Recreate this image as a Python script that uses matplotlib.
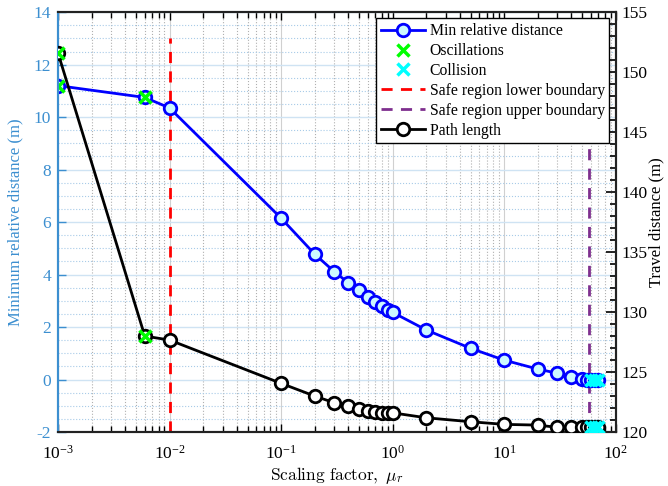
import matplotlib
matplotlib.use('Agg')
import matplotlib.pyplot as plt
from matplotlib.ticker import MultipleLocator, LogLocator, NullFormatter
from matplotlib.lines import Line2D

# scaling factor values
mu = [0.001, 0.006, 0.01, 0.1, 0.2, 0.3, 0.4, 0.5, 0.6, 0.7, 0.8, 0.9, 1,
      2, 5, 10, 20, 30, 40, 50, 55, 60, 65, 70]
# minimum relative distance (m)
min_dist = [11.2, 10.75, 10.35, 6.15, 4.78, 4.11, 3.69, 3.41, 3.15, 2.96, 2.8, 2.65, 2.56,
            1.89, 1.19, 0.74, 0.4, 0.24, 0.11, 0.03, 0.0, -0.02, -0.02, -0.02]
# travel distance (m)
path_len = [151.6, 128.0, 127.67, 124.06, 123.0, 122.44, 122.17, 121.94, 121.78, 121.7, 121.6, 121.6, 121.6,
            121.19, 120.86, 120.64, 120.58, 120.39, 120.39, 120.4, 120.4, 120.4, 120.4, 120.4]
osc_idx = [0, 1]
col_idx = [21, 22, 23]
lower_bound = 0.01
upper_bound = 57

blue_ax = '#3c8fd0'
plt.rcParams['font.family'] = ['Liberation Serif', 'DejaVu Serif']
plt.rcParams['mathtext.fontset'] = 'cm'
plt.rcParams['axes.unicode_minus'] = False

fig = plt.figure(figsize=(6.68, 4.86), dpi=100)
ax1 = fig.add_axes([0.0868, 0.111, 0.835, 0.864])
ax2 = ax1.twinx()

ax1.set_xscale('log')
ax1.set_xlim(1e-3, 1e2)
ax1.set_ylim(-2, 14)
ax2.set_ylim(120, 155)

# grid
ax1.yaxis.set_major_locator(MultipleLocator(2))
ax1.yaxis.set_minor_locator(MultipleLocator(0.5))
ax1.xaxis.set_major_locator(LogLocator(base=10, numticks=10))
ax1.xaxis.set_minor_locator(LogLocator(base=10, subs=range(2, 10), numticks=20))
ax1.xaxis.set_minor_formatter(NullFormatter())
ax1.grid(True, which='major', axis='x', color='#d0d0d0', lw=0.8, ls='-')
ax1.grid(True, which='minor', axis='x', color='#b0b0b0', lw=0.8, ls=':')
ax1.grid(True, which='major', axis='y', color='#cfe3f3', lw=1.0, ls='-')
ax1.grid(True, which='minor', axis='y', color='#a8cbe8', lw=0.8, ls=':')

# boundaries
ax1.plot([lower_bound, lower_bound], [-2, 13], '--', color='#ff0000', lw=2, dashes=(4, 3))
ax1.plot([upper_bound, upper_bound], [-2, 13], '--', color='#7e2f8e', lw=2, dashes=(4, 3))

# min relative distance
ax1.plot(mu, min_dist, '-o', color='#0000ff', lw=2, ms=9, mew=2, mfc='#ccf8ff', mec='#0000ff', zorder=5)
ax1.plot([mu[i] for i in osc_idx], [min_dist[i] for i in osc_idx], 'x', color='#00ff00', ms=8, mew=2.5, zorder=6)
ax1.plot([mu[i] for i in col_idx], [min_dist[i] for i in col_idx], 'x', color='#00ffff', ms=8, mew=2.5, zorder=6)

# path length
ax2.plot(mu, path_len, '-o', color='black', lw=2, ms=9, mew=2, mfc='white', mec='black', zorder=5)
ax2.plot([mu[i] for i in osc_idx], [path_len[i] for i in osc_idx], 'x', color='#00ff00', ms=8, mew=2.5, zorder=6)
ax2.plot([mu[i] for i in col_idx], [path_len[i] for i in col_idx], 'x', color='#00ffff', ms=8, mew=2.5, zorder=6)

# axes styling
ax1.tick_params(axis='x', which='both', direction='in', top=True, colors='black', labelsize=12.5, pad=9)
ax1.tick_params(axis='x', which='major', length=6, width=1)
ax1.tick_params(axis='x', which='minor', length=4, width=1)
ax1.tick_params(axis='y', which='major', direction='in', length=6, width=1, colors=blue_ax, labelsize=12.5, pad=5)
ax1.tick_params(axis='y', which='minor', left=False)
ax2.yaxis.set_major_locator(MultipleLocator(5))
ax2.yaxis.set_minor_locator(MultipleLocator(1))
ax2.tick_params(axis='y', which='major', direction='in', length=7, width=1.2, labelsize=12.5, pad=4)
ax2.tick_params(axis='y', which='minor', direction='in', length=4, width=1.2)
for ax in (ax1, ax2):
    ax.spines['left'].set_color(blue_ax)
    ax.spines['left'].set_linewidth(1.5)
    for s in ('top', 'right', 'bottom'):
        ax.spines[s].set_color('#222222')
        ax.spines[s].set_linewidth(1.5)

ax1.set_xlabel(r'$\mathrm{Scaling\ factor,}\ \mu_r$', fontsize=12.5, labelpad=2)
ax1.set_ylabel('Minimum relative distance (m)', fontsize=12, color=blue_ax, labelpad=7)
ax2.set_ylabel('Travel distance (m)', fontsize=12, labelpad=1)

handles = [
    Line2D([], [], color='#0000ff', lw=2, marker='o', ms=9, mew=2, mfc='#ccf8ff', mec='#0000ff'),
    Line2D([], [], ls='none', marker='x', color='#00ff00', ms=8, mew=2.5),
    Line2D([], [], ls='none', marker='x', color='#00ffff', ms=8, mew=2.5),
    Line2D([], [], color='#ff0000', lw=2, ls='--', dashes=(4, 3)),
    Line2D([], [], color='#7e2f8e', lw=2, ls='--', dashes=(4, 3)),
    Line2D([], [], color='black', lw=2, marker='o', ms=9, mew=2, mfc='white', mec='black'),
]
labels = ['Min relative distance', 'Oscillations', 'Collision',
          'Safe region lower boundary', 'Safe region upper boundary', 'Path length']
leg = ax2.legend(handles, labels, loc='upper right', fontsize=11.3, fancybox=False,
                 edgecolor='black', framealpha=1, borderpad=0.3, labelspacing=0.25,
                 handlelength=2.8, handletextpad=0.3, borderaxespad=0.4)
leg.get_frame().set_linewidth(1)

fig.savefig('out.png', dpi=100)
